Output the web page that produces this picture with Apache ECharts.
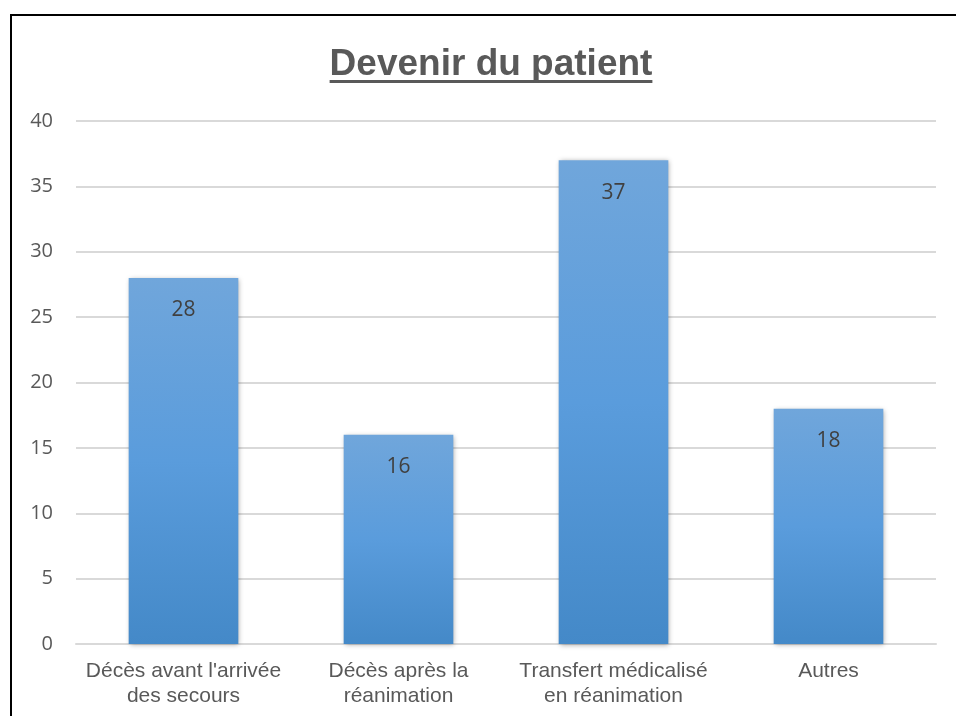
<!DOCTYPE html>
<html>
<head>
<meta charset="utf-8">
<script src="https://cdn.jsdelivr.net/npm/echarts@6/dist/echarts.min.js"></script>
<style>
  html, body { margin: 0; padding: 0; background: #fff; }
  #frame {
    position: absolute; left: 10px; top: 14px; width: 960px; height: 720px;
    border-left: 2px solid #000; border-top: 2px solid #000;
  }
  #chart { position: absolute; left: 0; top: 0; width: 956px; height: 716px; }
</style>
</head>
<body>
<div id="frame"></div>
<div id="chart"></div>
<script>
// données du graphique
const titre = 'Devenir du patient'
const categories = ["Décès avant l'arrivée\ndes secours", 'Décès après la\nréanimation', 'Transfert médicalisé\nen réanimation', 'Autres']
const valeurs = [28, 16, 37, 18]

let myChart = echarts.init(document.getElementById('chart'))

// largeur du titre pour le soulignement
const titleFont = 'bold 37px "Liberation Sans", Arial, sans-serif'
const ctx = document.createElement('canvas').getContext('2d')
ctx.font = titleFont
const titleW = ctx.measureText(titre).width
const titleX = 491

myChart.setOption({
  animation: false,
  title: {
    text: titre,
    left: titleX - titleW / 2,
    top: 46,
    padding: 0,
    textStyle: {
      fontFamily: '"Liberation Sans", Arial, sans-serif',
      fontSize: 37,
      fontWeight: 'bold',
      color: '#595959'
    }
  },
  graphic: [{
    type: 'rect',
    shape: { x: titleX - titleW / 2, y: 80, width: titleW, height: 3 },
    style: { fill: '#595959' }
  }],
  grid: {
    left: 76,
    right: 20,
    top: 121,
    bottom: 72
  },
  xAxis: {
    type: 'category',
    data: categories,
    axisLine: { lineStyle: { color: '#d9d9d9', width: 2 } },
    axisTick: { show: false },
    axisLabel: {
      interval: 0,
      color: '#595959',
      fontFamily: '"Liberation Sans", Arial, sans-serif',
      fontSize: 21,
      lineHeight: 25,
      margin: 15
    }
  },
  yAxis: {
    type: 'value',
    min: 0,
    max: 40,
    interval: 5,
    axisLine: { show: false },
    axisTick: { show: false },
    axisLabel: {
      color: '#595959',
      fontFamily: '"Open Sans", "Noto Sans", sans-serif',
      fontSize: 20,
      margin: 23
    },
    splitLine: { lineStyle: { color: '#d9d9d9', width: 2 } }
  },
  series: [{
    type: 'bar',
    data: valeurs,
    barWidth: '51%',
    itemStyle: {
      color: new echarts.graphic.LinearGradient(0, 0, 0, 1, [
        { offset: 0, color: '#70a6db' },
        { offset: 0.5, color: '#5a9cdc' },
        { offset: 1, color: '#4489c8' }
      ]),
      shadowColor: 'rgba(0,0,0,0.35)',
      shadowBlur: 5,
      shadowOffsetX: 1,
      shadowOffsetY: 1
    },
    label: {
      show: true,
      position: 'insideTop',
      distance: 22,
      color: '#404040',
      fontFamily: '"Open Sans", "Noto Sans", sans-serif',
      fontSize: 21
    }
  }]
})
</script>
</body>
</html>
